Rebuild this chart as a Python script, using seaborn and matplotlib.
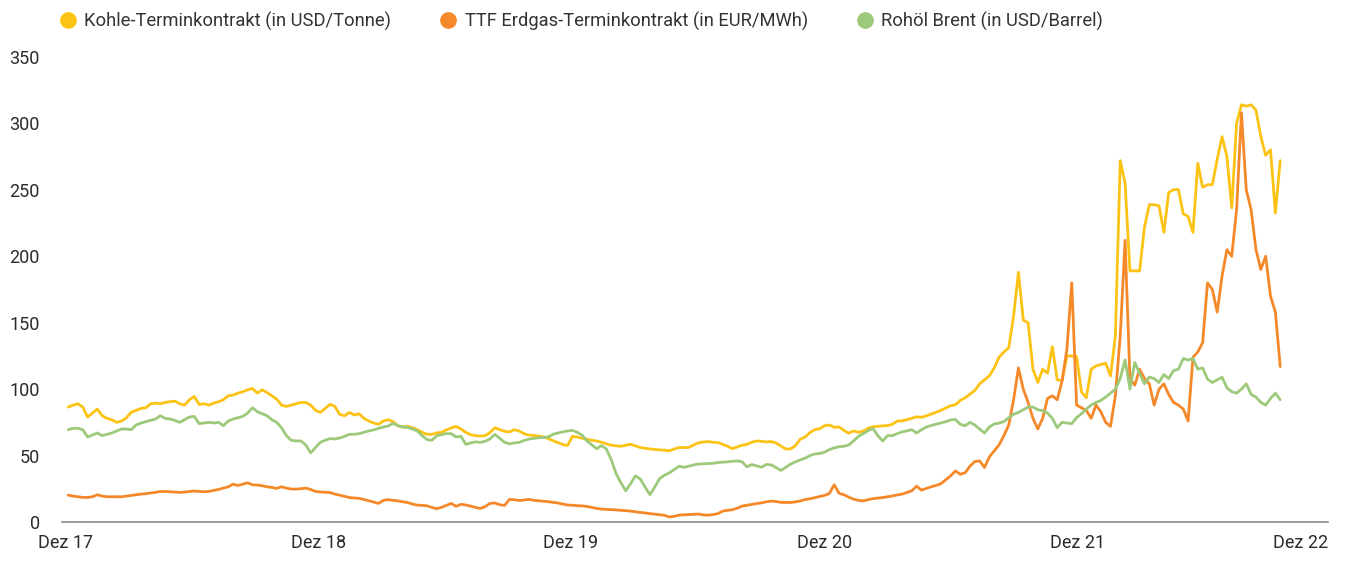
import matplotlib
matplotlib.use('Agg')
import matplotlib.pyplot as plt
from matplotlib.lines import Line2D
import seaborn as sns
import pandas as pd

# weekly values (Fridays from 5 Jan 2018)
coal_2018 = [86.5, 88, 89, 86.5, 79, 82, 85, 80, 78, 77,
             75, 76, 78.5, 82.5, 84, 85.5, 86, 89, 89.5, 89,
             90, 90.5, 91, 89, 88, 92, 94.5, 88.5, 89, 88,
             89.5, 90.5, 92, 95, 95.5, 97, 98, 99.5, 100.5, 97,
             99.5, 97.5, 95, 92.5, 88, 87, 88, 89, 90, 90,
             88, 84]
coal_2019 = [82.5, 85.5, 88.5, 87, 81, 80, 82.5, 80.5, 81.5, 78,
             76, 74.5, 73.5, 76, 77, 75.5, 72.5, 71.5, 72, 71,
             69.5, 67.5, 66, 66, 67, 67.5, 69.3, 70.8, 72, 70,
             67.5, 65.8, 65, 64.6, 65, 67.3, 71, 69.5, 68.3, 67.8,
             69.5, 68.5, 66.5, 65.4, 65.2, 64.6, 64, 62.8, 61.2, 59.8,
             58.3, 57.6]
coal_2020 = [64.5, 64, 63, 62.3, 61.5, 61, 60, 58.8, 57.8, 57.3,
             57, 57.8, 58.5, 57.3, 56.1, 55.5, 55, 54.6, 54.3, 54,
             53.6, 55, 56, 56.1, 56.1, 58, 59.6, 60.2, 60.5, 60,
             59.8, 58.5, 57, 55.2, 56.5, 57.8, 58.5, 60, 61, 60.7,
             60.3, 60.5, 59.5, 57.2, 55, 55, 57.5, 62.3, 64, 67.3,
             69.5, 70.2]
coal_2021 = [72.5, 73, 71.3, 71.5, 69, 66.8, 68.6, 67.5, 68.5, 70.5,
             71.7, 72, 72.4, 72.6, 73.5, 76, 76.1, 77, 78.1, 79.2,
             78.8, 79.8, 81.3, 82.5, 84.1, 85.8, 87.5, 88.3, 91.5, 93.5,
             96.3, 99, 104, 107, 110, 116, 124, 128, 131, 155,
             188, 152, 150, 115, 105, 115, 112, 132, 107, 106.5,
             125, 125, 124.5]
coal_2022 = [98, 93.5, 115, 117.5, 118.5, 119.5, 110, 140, 272, 255,
             189, 189, 189, 222, 238.8, 238.8, 238, 218, 248, 250.2,
             250.2, 232, 230, 218, 270, 252, 253.9, 253.9, 273, 290,
             275.2, 236.4, 300, 314, 313, 314, 310, 290, 276, 280.2,
             232.6, 272]

ttf_2018 = [20.2, 19.5, 19, 18.5, 18.5, 19, 20.5, 19.5, 19, 19,
            19, 19, 19.5, 20, 20.5, 21, 21.3, 21.8, 22.3, 23,
            23, 22.8, 22.5, 22.3, 22.5, 23, 23.3, 23, 22.8, 23,
            23.8, 24.5, 25.5, 26.5, 28.5, 27.5, 28.5, 29.5, 28, 27.8,
            27.3, 26.5, 26, 25.3, 26.5, 25.5, 24.8, 24.8, 25, 25.5,
            24.5, 23]
ttf_2019 = [22.6, 22.4, 22.2, 21, 20.2, 19.3, 18.4, 18.1, 17.8, 17,
            16, 15, 14, 16.3, 16.8, 16.3, 15.9, 15.2, 14.7, 13.5,
            12.7, 12.5, 12.2, 11, 10, 11, 12.5, 14, 11.8, 13.3,
            12.8, 12, 11, 10.2, 11.6, 14, 14.3, 13, 12.5, 17,
            16.8, 16.2, 16.5, 17, 16.4, 16, 15.6, 15.3, 14.8, 14.3,
            13.5, 12.8]
ttf_2020 = [12.6, 12.3, 12.1, 11.7, 11, 10.2, 9.7, 9.5, 9.3, 9.1,
            8.8, 8.5, 8.2, 7.7, 7.2, 6.8, 6.3, 5.9, 5.5, 5,
            3.8, 4.3, 5.2, 5.4, 5.6, 5.8, 6, 5.3, 5.2, 5.6,
            6.3, 8.2, 8.8, 9.2, 10.4, 12, 12.6, 13.2, 13.9, 14.4,
            15.2, 15.7, 15.4, 14.8, 14.7, 14.7, 15.1, 15.9, 16.9, 17.5,
            18.3, 19.2]
ttf_2021 = [20, 21.5, 28, 21.6, 20.5, 18.7, 17.2, 16.3, 15.9, 16.8,
            17.6, 18, 18.4, 19, 19.6, 20.4, 21, 22.2, 23.5, 27,
            24, 25.3, 26.5, 27.5, 28.8, 31.8, 34.7, 38.5, 36, 37,
            42, 45.5, 46, 41, 49, 53.5, 58, 65, 73, 92,
            116, 100, 90, 78, 70, 78, 93, 95, 92, 106,
            130, 180, 88]
ttf_2022 = [86, 84, 78, 88, 83, 75, 72, 95, 140, 212,
            108, 103, 115, 108, 104, 88, 100, 104, 96, 90,
            88, 85, 76, 124, 128, 135, 180, 175, 158, 185,
            205, 200, 235, 308, 250, 235, 205, 190, 200, 170,
            158, 117]

brent_2018 = [69.5, 70.5, 70.5, 69.5, 64, 65.5, 67, 65, 66, 67,
              68.5, 70, 70, 69.5, 73, 74.5, 75.5, 76.5, 77.5, 80,
              78, 77.5, 76.5, 75, 77, 79, 79.5, 74, 74.5, 75,
              74.5, 75, 72.5, 76, 77.5, 78.5, 79.5, 82, 86, 83,
              81.5, 80, 77, 75, 71, 65, 61.5, 61, 61, 58,
              52, 56]
brent_2019 = [60, 61.5, 62.8, 62.5, 63.2, 64.5, 66, 66, 66.5, 67.5,
              68.6, 69.3, 70.5, 71.5, 72.3, 74.2, 72.5, 71.5, 71.2, 70,
              68.5, 65, 62, 61.5, 64.8, 65.8, 66.5, 66.5, 64, 64.5,
              58.5, 59.5, 60.3, 59.9, 60.8, 62.5, 66, 63, 60, 58.8,
              59.5, 59.9, 61.3, 62.4, 62.9, 63.4, 63.6, 64, 66, 67,
              67.8, 68.5]
brent_2020 = [69, 67.5, 65.5, 61, 58, 55.2, 57.5, 55, 47, 36.5,
              29.5, 23.5, 28.8, 34.8, 32.3, 26.2, 20.5, 26.5, 32.8, 35.2,
              37, 39.5, 42, 41.2, 42, 43, 43.6, 43.8, 44, 44.2,
              44.8, 45, 45.3, 45.7, 46, 45.3, 41.5, 43.3, 42.2, 41.2,
              43.3, 43, 41, 38.8, 41.2, 43.5, 45.3, 46.8, 48, 50,
              51.2, 51.6]
brent_2021 = [52.5, 54.5, 55.8, 56.6, 57, 58, 61, 64.5, 66.5, 68.8,
              70.5, 65, 61, 65, 65, 66.5, 67.8, 68.6, 69.5, 67,
              69.5, 71.5, 72.6, 73.6, 74.5, 75.5, 76.8, 77.2, 73.5, 72.5,
              75, 73, 70, 67, 71.5, 73.8, 74.5, 75.5, 78.5, 81,
              82.5, 84.5, 86.5, 86.5, 84.5, 83.8, 82, 78, 71, 75,
              74.5, 74, 78.5]
brent_2022 = [81.5, 85, 88, 90, 91.5, 94, 97, 100, 108, 122,
              100, 120, 112, 104, 109, 108, 105, 111, 108, 114,
              115, 123, 122, 123, 115, 116, 107.5, 105, 107, 109,
              101, 98, 97, 100, 104, 96, 94, 90, 88, 93,
              97, 92]

labels = ['Kohle-Terminkontrakt (in USD/Tonne)',
          'TTF Erdgas-Terminkontrakt (in EUR/MWh)',
          'Rohöl Brent (in USD/Barrel)']
colors = ['#FCC214', '#F5892A', '#9DC97B']
tick_labels = ['Dez 17', 'Dez 18', 'Dez 19', 'Dez 20', 'Dez 21', 'Dez 22']
y_ticks = [0, 50, 100, 150, 200, 250, 300, 350]

coal = coal_2018 + coal_2019 + coal_2020 + coal_2021 + coal_2022
ttf = ttf_2018 + ttf_2019 + ttf_2020 + ttf_2021 + ttf_2022
brent = brent_2018 + brent_2019 + brent_2020 + brent_2021 + brent_2022
dates = pd.date_range('2018-01-05', periods=len(coal), freq='7D')

df = pd.DataFrame({
    'Datum': list(dates) * 3,
    'Wert': coal + ttf + brent,
    'Reihe': [labels[0]] * len(coal) + [labels[1]] * len(ttf) + [labels[2]] * len(brent),
})

sns.set_theme(style='white')
plt.rcParams['font.family'] = ['Roboto', 'DejaVu Sans']

W, H = 1349, 563
fig = plt.figure(figsize=(W / 100, H / 100), dpi=100)
ax = fig.add_axes([62 / W, 1 - 522 / H, (1328 - 62) / W, (522 - 57) / H])

sns.lineplot(data=df, x='Datum', y='Wert', hue='Reihe', palette=colors,
             linewidth=2.0, legend=False, ax=ax)

x_start, x_end = pd.Timestamp('2017-12-27'), pd.Timestamp('2022-12-29')
ax.set_xlim(x_start, x_end)
ax.set_ylim(0, 350)
tick_pos = [pd.Timestamp(f'{y}-01-01') for y in range(2018, 2023)] + [x_end]
ax.set_xticks(tick_pos)
ax.set_xticklabels(tick_labels)
ax.get_xticklabels()[-1].set_ha('right')
ax.set_yticks(y_ticks)
ax.set_xlabel('')
ax.set_ylabel('')

for s in ['left', 'top', 'right']:
    ax.spines[s].set_visible(False)
ax.spines['bottom'].set_color('#8a8a8a')
ax.spines['bottom'].set_linewidth(1.2)
ax.tick_params(axis='both', length=0, labelsize=13, colors='#2b2b2b')
ax.tick_params(axis='y', pad=16)
ax.tick_params(axis='x', pad=9)

handles = [Line2D([], [], marker='o', linestyle='', markersize=11, color=c) for c in colors]
fig.legend(handles, labels, loc='upper left', bbox_to_anchor=(53 / W, 1 - 6 / H),
           ncol=3, frameon=False, fontsize=13.25, handletextpad=0.38,
           columnspacing=2.62, handlelength=1.0, borderaxespad=0, borderpad=0.3,
           labelcolor='#333333')

fig.savefig('out.png', dpi=100)
